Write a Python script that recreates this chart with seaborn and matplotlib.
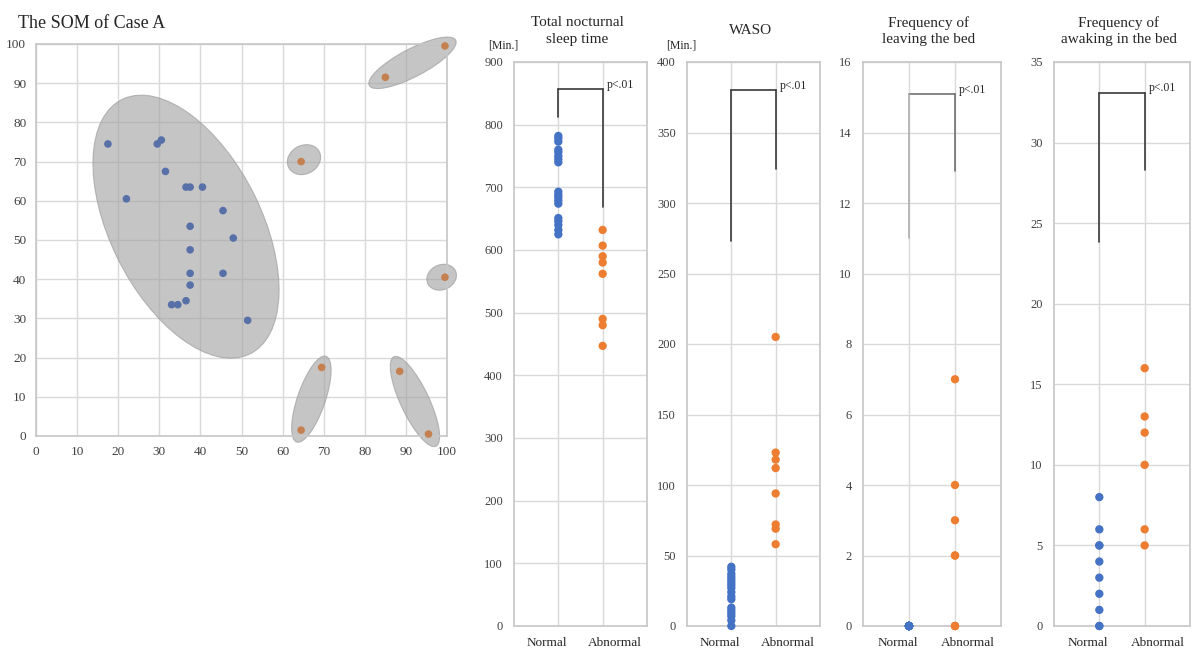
import pandas as pd
import seaborn as sns
import matplotlib.pyplot as plt
from matplotlib.patches import Ellipse

sns.set_theme(style="whitegrid")
plt.rcParams['font.family'] = ['Liberation Serif', 'DejaVu Serif']

# --- SOM map (Case A) ---
som_normal_x = [17.5, 22, 29.5, 30.5, 31.5, 36.5, 37.5, 40.5, 45.5, 37.5,
                48, 37.5, 37.5, 45.5, 37.5, 33, 34.5, 36.5, 51.5]
som_normal_y = [74.5, 60.5, 74.5, 75.5, 67.5, 63.5, 63.5, 63.5, 57.5, 53.5,
                50.5, 47.5, 41.5, 41.5, 38.5, 33.5, 33.5, 34.5, 29.5]
som_abnormal_x = [85, 99.5, 64.5, 99.5, 69.5, 88.5, 64.5, 95.5]
som_abnormal_y = [91.5, 99.5, 70, 40.5, 17.5, 16.5, 1.5, 0.5]

# cluster outlines: centre x, centre y, width, height, angle
clusters_cx = [36.5, 91.6, 65.2, 98.7, 67.0, 92.2]
clusters_cy = [53.4, 95.2, 70.5, 40.5, 9.4, 8.8]
clusters_w = [72, 24, 8.5, 7.5, 23, 25]
clusters_h = [37, 7, 7.2, 6.3, 6.8, 7]
clusters_angle = [-65, 29, 35, 30, 72, -66]

# --- group comparisons ---
groups = ["Normal", "Abnormal"]
titles = ["Total nocturnal\nsleep time", "WASO",
          "Frequency of\nleaving the bed", "Frequency of\nawaking in the bed"]
units = ["[Min.]", "[Min.]", "", ""]
y_max = [900, 400, 16, 35]
y_step = [100, 50, 2, 5]

tst_normal = [782, 778, 773, 760, 756, 750, 745, 740, 693, 688, 684, 679,
              674, 651, 646, 640, 632, 625]
tst_abnormal = [632, 607, 590, 580, 562, 490, 480, 447]
waso_normal = [0, 4, 7, 9, 11, 13, 19, 21, 24, 27, 29, 31, 33, 35, 37, 40, 42]
waso_abnormal = [205, 123, 118, 112, 94, 72, 69, 58]
leave_normal = [0, 0, 0, 0, 0, 0, 0, 0, 0, 0, 0, 0, 0, 0, 0, 0, 0, 0]
leave_abnormal = [7, 4, 3, 2, 2, 0, 0, 0]
awake_normal = [8, 6, 5, 5, 4, 3, 2, 1, 0, 0]
awake_abnormal = [16, 13, 12, 10, 6, 5]

normal_sets = [tst_normal, waso_normal, leave_normal, awake_normal]
abnormal_sets = [tst_abnormal, waso_abnormal, leave_abnormal, awake_abnormal]

# significance brackets: top, left leg end, right leg end
bracket_top = [857, 380, 15.1, 33.1]
bracket_left = [812, 273, 11, 23.8]
bracket_right = [668, 324, 12.9, 28.3]

W, H = 1195, 652
fig = plt.figure(figsize=(W / 100, H / 100), dpi=100)


def px_axes(left, top, right, bottom):
    return fig.add_axes([left / W, 1 - bottom / H, (right - left) / W, (bottom - top) / H])


grid_c = "#d9d9d9"
tick_c = "#404040"

# SOM panel
ax = px_axes(36, 44, 447, 436)
ax.set_axisbelow(True)
for cx, cy, w, h, a in zip(clusters_cx, clusters_cy, clusters_w, clusters_h, clusters_angle):
    ax.add_patch(Ellipse((cx, cy), w, h, angle=a, facecolor="#a6a6a6",
                         edgecolor="#9a9a9a", alpha=0.65, lw=0.8, zorder=2,
                         clip_on=False))
som = pd.DataFrame({
    "x": som_normal_x + som_abnormal_x,
    "y": som_normal_y + som_abnormal_y,
    "group": ["Normal"] * len(som_normal_x) + ["Abnormal"] * len(som_abnormal_x),
})
sns.scatterplot(data=som, x="x", y="y", hue="group",
                palette={"Normal": "#5870a8", "Abnormal": "#c4804f"},
                s=30, edgecolor="none", legend=False, ax=ax, zorder=3,
                clip_on=False)
ax.set_xlim(0, 100)
ax.set_ylim(0, 100)
ax.set_xticks(range(0, 101, 10))
ax.set_yticks(range(0, 101, 10))
ax.set_xlabel("")
ax.set_ylabel("")
ax.grid(color=grid_c, lw=1)
for s in ax.spines.values():
    s.set_color("#c8c8c8")
ax.tick_params(labelsize=9.5, colors=tick_c, length=3, color="#c8c8c8", pad=4)
fig.text(18 / W, 1 - 23 / H, "The SOM of Case A", fontsize=13, ha="left", va="center")

# group comparison panels
panel_px = [(514, 647), (687, 820), (863, 1001), (1054, 1190)]
unit_x = [503, 681]
colors = {"Normal": "#4472c4", "Abnormal": "#ed7d31"}
label_pos = [-0.25, 1.28]
for i, (l, r) in enumerate(panel_px):
    ax = px_axes(l, 62, r, 626)
    ax.set_axisbelow(True)
    df = pd.DataFrame({
        "group": ["Normal"] * len(normal_sets[i]) + ["Abnormal"] * len(abnormal_sets[i]),
        "value": normal_sets[i] + abnormal_sets[i],
    })
    sns.stripplot(data=df, x="group", y="value", hue="group", order=groups,
                  palette=colors, jitter=False, size=6, linewidth=0,
                  legend=False, ax=ax, zorder=3, clip_on=False)
    ax.set_xlim(-1, 2)
    ax.set_ylim(0, y_max[i])
    ax.set_yticks(range(0, y_max[i] + 1, y_step[i]))
    ax.set_xticks([0, 1])
    ax.set_xticklabels([])
    for g, xp in zip(groups, label_pos):
        ax.text(xp, -17 / 564, g, transform=ax.get_xaxis_transform(),
                ha="center", va="center", fontsize=9.5)
    ax.set_xlabel("")
    ax.set_ylabel("")
    ax.grid(color=grid_c, lw=1)
    for s in ax.spines.values():
        s.set_color("#c8c8c8")
    ax.tick_params(axis="y", labelsize=9, colors=tick_c, length=4, color="#c8c8c8", pad=4)
    ax.tick_params(axis="x", length=0)

    bc = "#707070" if i == 2 else "#3a3a3a"
    left_c = "#b0b0b0" if i == 2 else bc
    ax.plot([0, 1], [bracket_top[i]] * 2, color=bc, lw=1.2, zorder=4)
    ax.plot([0, 0], [bracket_left[i], bracket_top[i]], color=left_c, lw=1.2, zorder=4)
    ax.plot([1, 1], [bracket_right[i], bracket_top[i]], color=bc, lw=1.2, zorder=4)
    ax.annotate("p<.01", xy=(1, bracket_top[i]), xytext=(3, 3),
                textcoords="offset points", ha="left", va="center", fontsize=8.5)

    fig.text((l + r) / 2 / W - 3 / W, 1 - 31 / H, titles[i], fontsize=11,
             ha="center", va="center", linespacing=1.35)
    if units[i]:
        fig.text(unit_x[i] / W, 1 - 45 / H, units[i], fontsize=8.5, ha="center", va="center")

fig.savefig("out.png", dpi=100)
